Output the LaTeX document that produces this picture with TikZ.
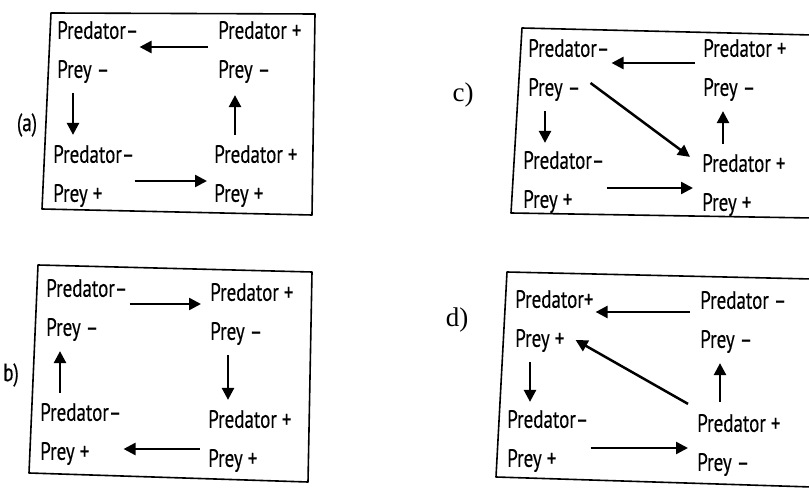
\documentclass[tikz,border=0pt]{standalone}
\usepackage{fontspec}
\setmainfont{Liberation Serif}
\newfontfamily\statefont[FakeStretch=0.76,FakeBold=0.4]{PT Sans}
\usetikzlibrary{arrows.meta}

\begin{document}
\begin{tikzpicture}[
    x=1pt, y=-1pt,
    state/.style={anchor=west, align=left, inner sep=0pt,
        font=\statefont\fontsize{25}{39}\selectfont},
    panel/.style={draw, line width=1.6pt, line join=round},
    tag/.style={font=\statefont\fontsize{25}{28}\selectfont},
    seriftag/.style={font=\fontsize{27}{30}\selectfont},
    arr/.style={-{Triangle[length=12pt,width=12pt]}, line width=2.5pt}
]
\useasboundingbox (0,0) rectangle (809,489);

% (a) upper left
\draw[panel] (51,13) -- (315,14) -- (312,215) -- (42,209) -- cycle;
\node[tag] (taga) at (27,125) {(a)};
\node[state] (a1) at (57,52)  {Predator–\\Prey –};
\node[state] (a2) at (218,52) {Predator +\\Prey –};
\node[state] (a3) at (53,176) {Predator–\\Prey +};
\node[state] (a4) at (214,176) {Predator +\\Prey +};
\draw[arr, shorten <=10pt, shorten >=1pt] ([yshift=5pt]a2.west) -- ([yshift=5pt]a1.east);
\draw[arr, shorten >=7pt] ([yshift=-5pt]a3.east) -- ([yshift=-5pt]a4.west);
\draw[arr, shorten <=10pt, shorten >=10pt] ([xshift=16pt]a1.south west) -- ([xshift=16pt]a1.south west |- a3.north);
\draw[arr, shorten <=10pt, shorten >=12pt] ([xshift=21pt]a4.north west) -- ([xshift=21pt]a4.north west |- a2.south);

% (b) lower left
\draw[panel] (38,265) -- (312,272) -- (308,482) -- (29,473) -- cycle;
\node[tag] (tagb) at (11,375) {b)};
\node[state] (b1) at (46,310)  {Predator–\\Prey –};
\node[state] (b2) at (210,314) {Predator +\\Prey –};
\node[state] (b3) at (40,434)  {Predator–\\Prey +};
\node[state] (b4) at (208,441) {Predator +\\Prey +};
\draw[arr, shorten <=2pt, shorten >=9pt] ([yshift=6pt]b1.east) -- ([yshift=6pt]b1.east -| b2.west);
\draw[arr, shorten <=8pt, shorten >=2pt] ([yshift=-8pt]b4.west) -- ([yshift=-8pt]b4.west -| b3.east);
\draw[arr, shorten <=10pt, shorten >=10pt] ([xshift=18pt]b2.south west) -- ([xshift=18pt]b2.south west |- b4.north);
\draw[arr, shorten <=10pt, shorten >=10pt] ([xshift=20pt]b3.north west) -- ([xshift=20pt]b3.north west |- b1.south);

% c) upper right
\draw[panel] (812,35) -- (522,28) -- (511,213) -- (812,218);
\node[seriftag] (tagc) at (463,95) {c)};
\node[state] (c1) at (528,70)  {Predator–\\Prey –};
\node[state] (c2) at (703,70)  {Predator +\\Prey –};
\node[state] (c3) at (523,182) {Predator–\\Prey +};
\node[state] (c4) at (702,185) {Predator +\\Prey +};
\draw[arr, shorten <=8pt, shorten >=2pt] ([yshift=7pt]c2.west) -- ([yshift=7pt]c2.west -| c1.east);
\draw[arr, shorten <=2pt, shorten >=9pt] ([yshift=-6pt]c3.east) -- ([yshift=-6pt]c3.east -| c4.west);
\draw[arr, shorten <=10pt, shorten >=8pt] ([xshift=17pt]c1.south west) -- ([xshift=17pt]c1.south west |- c3.north);
\draw[arr, shorten <=10pt, shorten >=10pt] ([xshift=21pt]c4.north west) -- ([xshift=21pt]c4.north west |- c2.south);
\draw[arr] ([xshift=-19pt,yshift=-13pt]c1.east) -- ([xshift=-12pt,yshift=-3pt]c4.north west);

% d) lower right
\draw[panel] (812,279) -- (507,272) -- (496,477) -- (812,487);
\node[seriftag] (tagd) at (457,320) {d)};
\node[state] (d1) at (515,321) {Predator+\\Prey +};
\node[state] (d2) at (700,322) {Predator –\\Prey –};
\node[state] (d3) at (507,441) {Predator–\\Prey +};
\node[state] (d4) at (697,445) {Predator +\\Prey –};
\draw[arr, shorten <=10pt, shorten >=2pt] ([yshift=10pt]d2.west) -- ([yshift=10pt]d2.west -| d1.east);
\draw[arr, shorten <=2pt, shorten >=9pt] ([yshift=-7pt]d3.east) -- ([yshift=-7pt]d3.east -| d4.west);
\draw[arr, shorten <=10pt, shorten >=8pt] ([xshift=15pt]d1.south west) -- ([xshift=15pt]d1.south west |- d3.north);
\draw[arr, shorten <=12pt, shorten >=10pt] ([xshift=23pt]d4.north west) -- ([xshift=23pt]d4.north west |- d2.south);
\draw[arr] ([xshift=-9pt,yshift=10pt]d4.north west) -- ([xshift=-18pt,yshift=-19pt]d1.east);
\end{tikzpicture}
\end{document}
